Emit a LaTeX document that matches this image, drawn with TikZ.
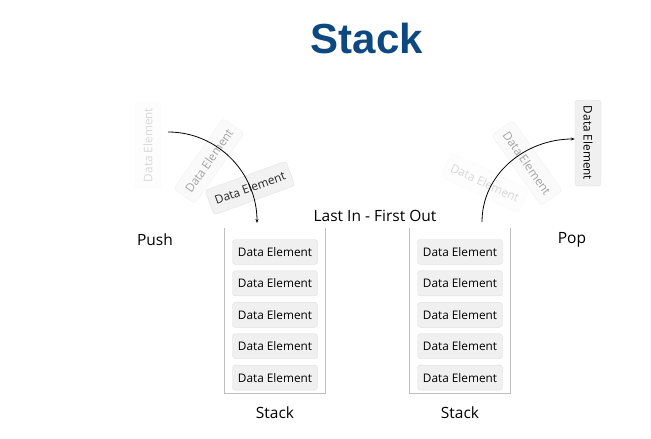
\documentclass[tikz,border=0pt]{standalone}
\usepackage{fontspec}
\setmainfont{Open Sans}
\newfontfamily\titlefont{Liberation Sans}
\usetikzlibrary{arrows.meta, positioning}
\definecolor{titleblue}{RGB}{14,72,128}
\definecolor{elemfill}{RGB}{240,240,240}
\definecolor{elemline}{RGB}{222,222,222}
\definecolor{wallgray}{RGB}{190,190,190}
\tikzset{
    stackpic/.style={x=1pt, y=-1pt, >={Stealth[length=4pt, width=3pt]}, node distance=6pt},
    elem/.style={draw=elemline, fill=elemfill, rounded corners=3pt, minimum width=85pt,
        minimum height=25pt, inner sep=0pt, font=\fontsize{11.8}{13}\selectfont},
    % flying elements, faded by how far they are from the stack
    flying/.style={elem, minimum width=86pt, minimum height=26pt},
    holder/.style={minimum width=100pt, minimum height=165pt, inner sep=0pt},
    wall/.style={draw=wallgray, line width=0.8pt},
    caption/.style={font=\fontsize{15.5}{18}\selectfont},
    move/.style={->, line width=0.8pt},
}

\begin{document}
\begin{tikzpicture}[stackpic]
    \useasboundingbox (0,0) rectangle (651,439);

    \node[font=\titlefont\bfseries\fontsize{42}{46}\selectfont, text=titleblue] (title) at (367,38) {Stack};

    % left stack (push)
    \node[holder] (lholder) at (275,311) {};
    \draw[wall] (lholder.north west) |- (lholder.south east) -- (lholder.north east);
    \node[elem] (l1) at (275,252) {Data Element};
    \node[elem, below=of l1] (l2) {Data Element};
    \node[elem, below=of l2] (l3) {Data Element};
    \node[elem, below=of l3] (l4) {Data Element};
    \node[elem, below=of l4] (l5) {Data Element};
    \node[caption, below=9pt of lholder] (lcap) {Stack};
    \node[caption] (push) at (155,240) {Push};

    % right stack (pop)
    \node[holder] (rholder) at (460,311) {};
    \draw[wall] (rholder.north west) |- (rholder.south east) -- (rholder.north east);
    \node[elem] (r1) at (460,252) {Data Element};
    \node[elem, below=of r1] (r2) {Data Element};
    \node[elem, below=of r2] (r3) {Data Element};
    \node[elem, below=of r3] (r4) {Data Element};
    \node[elem, below=of r4] (r5) {Data Element};
    \node[caption, below=9pt of rholder] (rcap) {Stack};
    \node[caption] (pop) at (572,240) {Pop};

    \node[caption] (lifo) at (375,216) {Last In - First Out};

    % push: element on its way into the stack
    \node[flying, rotate=90, opacity=0.15] (pa) at (148,145) {Data Element};
    \node[flying, rotate=55, opacity=0.35] (pb) at (209,161) {Data Element};
    \node[flying, rotate=20, opacity=0.85] (pc) at (250,188) {Data Element};
    \coordinate (pushfrom) at (168,132);
    \coordinate (pushto) at (257,223);
    \draw[move] (pushfrom) to[out=0, in=90] (pushto);

    % pop: element on its way out
    \node[flying, rotate=-25, opacity=0.15] (qa) at (485,183) {Data Element};
    \node[flying, rotate=-55, opacity=0.35] (qb) at (527,163) {Data Element};
    \node[flying, rotate=-90] (qc) at (588,143) {Data Element};
    \coordinate (popfrom) at (482,222);
    \draw[move] (popfrom) to[out=90, in=180] ([yshift=4pt]qc.south);
\end{tikzpicture}
\end{document}
